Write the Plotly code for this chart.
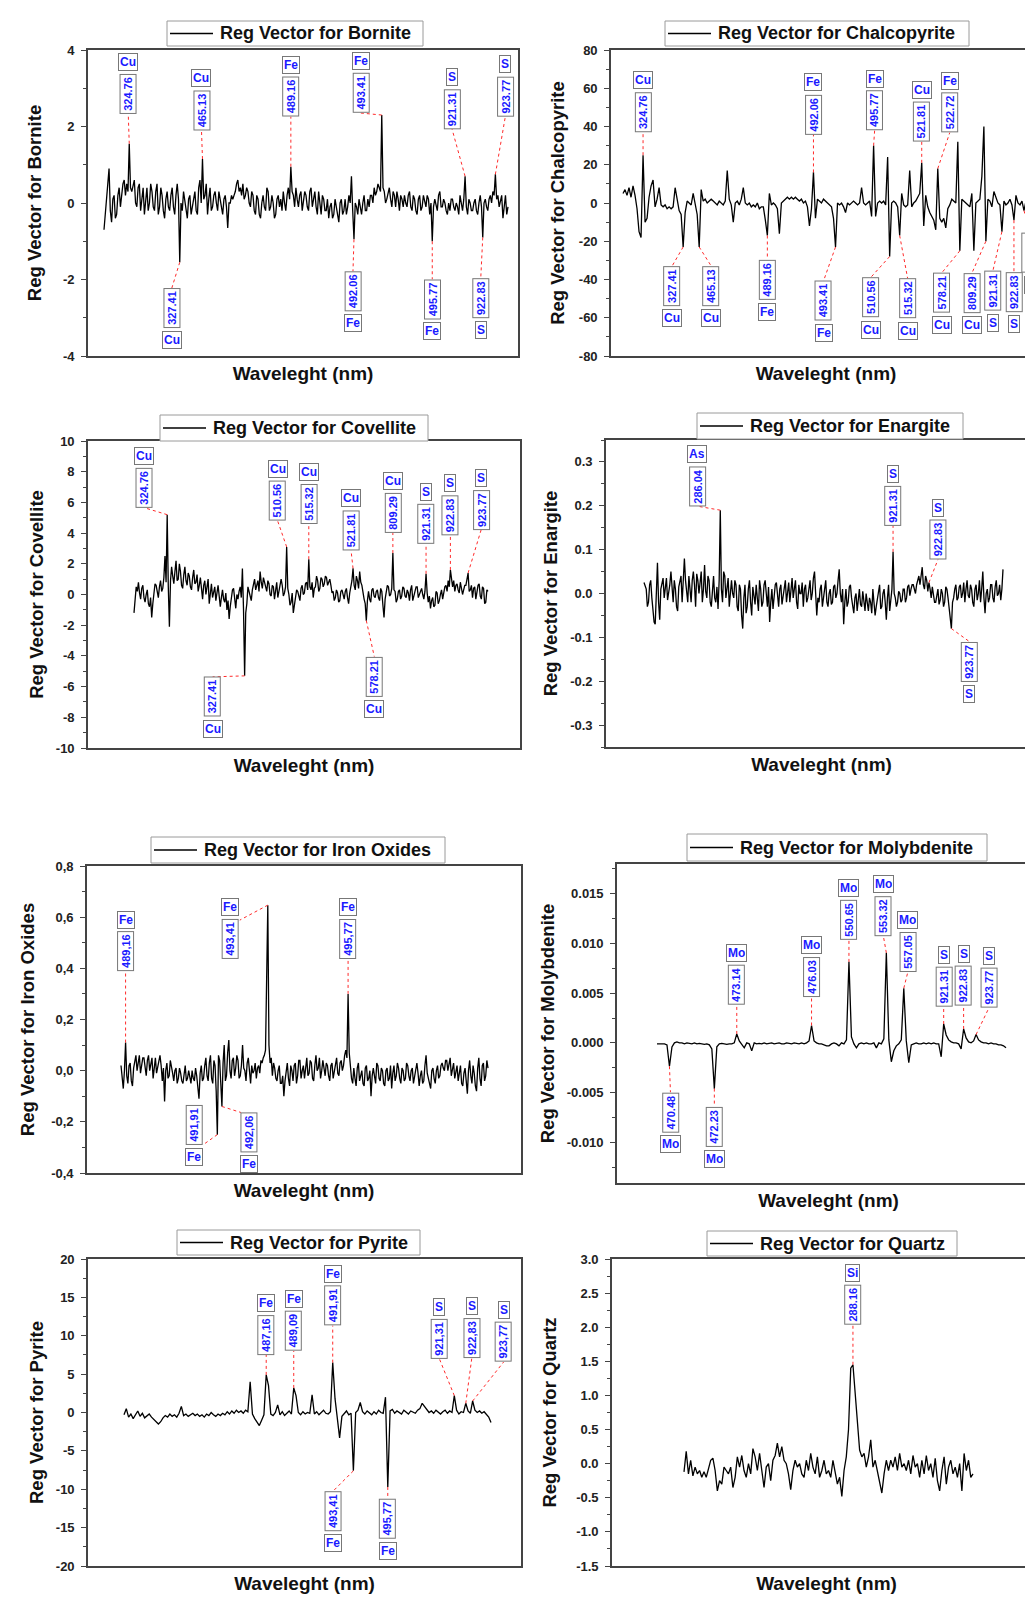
import plotly.graph_objects as go

FIG_W, FIG_H = 1033, 1597

# ---------------- data (regression vectors) ----------------
bornite = [
    -0.7, -0.3, 0.0, 0.4, 0.9, -0.2, -0.5, 0.1, 0.2, -0.4, -0.3, 0.2, 0.4, -0.1, 0.3, 0.5, 0.6, 0.2, 0.5, 0.3,
    1.55, 0.4, 0.3, 0.5, 0.6, 0.0, -0.1, 0.4, 0.5, -0.2, 0.2, 0.4, -0.3, 0.1, 0.4, -0.2, 0.0, 0.5, 0.3, -0.1,
    -0.2, 0.3, 0.5, -0.3, -0.1, 0.4, 0.2, -0.2, -0.4, 0.1, 0.3, -0.1, -0.2, 0.2, 0.4, -0.1, -0.3, 0.2, 0.5, 0.1,
    -1.55, 0.0, -0.2, 0.3, 0.1, -0.2, -0.4, 0.1, 0.2, -0.3, -0.1, 0.2, 0.3, -0.2, -0.3, 0.4, 0.6, 0.0, 1.15, 0.1,
    0.2, 0.5, -0.3, 0.1, 0.4, -0.2, -0.1, 0.2, 0.3, 0.0, -0.2, 0.3, 0.1, -0.2, -0.3, 0.1, 0.2, -0.1, -0.65, 0.0,
    0.0, 0.2, 0.1, 0.2, 0.3, 0.5, 0.6, 0.3, 0.4, 0.2, 0.5, 0.1, 0.2, 0.4, 0.3, 0.0, -0.1, 0.3, 0.2, -0.2,
    -0.3, 0.2, 0.1, -0.3, -0.4, 0.0, 0.2, -0.1, -0.2, 0.4, 0.3, -0.2, -0.1, 0.2, 0.0, -0.4, -0.3, 0.1, 0.2, -0.1,
    0.1, -0.2, 0.3, 0.0, -0.2, 0.2, 0.4, 0.1, 0.95, 0.3, 0.2, -0.1, 0.4, 0.1, -0.1, 0.2, 0.3, -0.2, 0.0, 0.3,
    0.2, -0.1, -0.2, 0.3, 0.4, -0.1, 0.1, 0.3, -0.1, -0.3, 0.3, 0.0, -0.3, 0.2, 0.1, -0.2, -0.2, 0.1, -0.4, -0.1,
    0.0, -0.4, -0.3, 0.1, -0.1, -0.4, -0.5, 0.0, 0.1, -0.3, -0.2, 0.1, -0.3, -0.1, 0.2, 0.0, 0.7, -0.2, -0.95, 0.0,
    -0.1, -0.3, 0.1, -0.1, -0.3, 0.0, 0.2, -0.2, -0.2, 0.1, -0.1, 0.2, 0.2, 0.0, 0.4, 0.2, 0.3, 0.5, 0.4, 0.3,
    2.3, 0.4, 0.3, 0.0, 0.1, 0.3, 0.4, 0.1, -0.1, 0.3, 0.2, -0.1, 0.3, 0.1, -0.2, 0.2, 0.1, -0.1, 0.2, 0.0,
    -0.1, 0.2, 0.3, -0.1, -0.2, 0.2, 0.1, -0.2, -0.3, 0.1, 0.2, -0.2, -0.1, 0.2, 0.0, -0.1, 0.2, 0.1, -0.3, 0.0,
    -1.0, -0.1, 0.1, -0.1, -0.2, 0.2, 0.3, -0.1, -0.1, 0.1, 0.0, -0.2, -0.3, 0.0, -0.2, 0.1, 0.1, -0.1, -0.2, 0.0,
    -0.1, -0.3, 0.2, 0.0, -0.2, 0.1, 0.7, -0.1, -0.3, 0.1, 0.0, -0.2, -0.2, 0.0, 0.1, -0.2, -0.3, 0.0, 0.2, -0.1,
    -0.9, 0.0, 0.1, -0.1, -0.2, 0.1, 0.2, 0.0, 0.3, 0.2, 0.75, 0.1, 0.2, -0.1, 0.1, 0.2, -0.4, 0.0, 0.2, -0.3, -0.1,
]
chalcopyrite = [
    5, 7, 4, 8, 3, 9, 4, -3, -15, -18,
    25, -10, -8, 3, 9, 12, -2, 2, 8, -1,
    -2, -1, -3, -2, -3, -2, 8, 1, -4, -6,
    -23, -5, 1, 0, -1, 5, -1, -6, -23, 7,
    1, 2, 0, 1, 2, 1, 0, -1, 1, 0,
    -1, 1, 17, 2, -1, -10, 0, 1, -1, 2,
    8, 0, -1, 0, -2, -1, -2, 0, -3, -2,
    -2, -9, -17, 5, -1, 0, -1, -3, -16, 0,
    1, 2, 3, 2, 3, 2, 3, 2, 1, 2,
    0, 1, -2, -12, -3, 16, -8, 2, 1, 0,
    2, 1, 0, -1, -2, -8, -23, 0, -1, 0,
    -2, -5, 0, -1, 0, 1, 0, -1, 0, 8,
    0, -1, 0, 1, -7, 30, -7, 0, 1, 0,
    1, -1, 24, -28, 0, 1, 0, -2, -17, 5,
    -1, -2, -1, 17, -2, 0, 1, 3, 5, 21,
    -12, 4, -2, -5, -7, -9, -14, 18, -8, -10,
    -8, -13, -3, -1, 2, 1, 0, 32, -25, 2,
    1, 0, -1, -2, 5, -25, 0, 1, 2, 14,
    40, -20, 2, 1, -2, 6, 3, 0, -1, -15,
    1, -1, 0, 2, -1, -9, 4, 0, -1, 1,
    -4, 1, 0, 1, 1, 1,
]
covellite = [
    -1.2, -0.4, 0.5, 0.2, 0.8, 0.1, -0.3, 0.4, 0.6, -0.2, -0.5, 0.0, 0.3, -0.6, -0.8, -0.2, -1.5, -0.6, 0.2, 0.7,
    0.6, 0.1, -0.2, 0.5, 0.9, 0.2, 0.4, 1.1, 2.5, 0.8, 5.2, 0.5, -2.1, 0.9, 1.8, 1.2, 0.7, 1.5, 2.2, 0.9,
    1.0, 2.0, 1.5, 0.6, 0.4, 1.3, 1.8, 0.9, 0.6, 1.4, 1.2, 0.5, 0.3, 1.1, 1.6, 0.7, 0.8, 1.3, 0.2, 0.6,
    1.1, 0.4, -0.3, 0.6, 0.9, 0.0, 0.5, 1.0, -0.6, 0.2, 0.7, -0.2, 0.1, 0.5, -0.4, 0.3, 0.6, -0.1, -0.8, -0.2,
    0.3, -0.3, -0.5, 0.1, -1.0, -0.4, -1.6, -0.8, -0.2, 0.3, 0.4, -0.5, -0.9, 0.0, -0.3, 0.2, 0.5, -0.2, 1.7, -1.0,
    -5.3, -1.2, -0.6, 0.5, 0.2, -0.2, -0.4, 0.3, 0.6, 1.0, 0.3, 0.7, 0.9, 0.2, 1.5, 0.8, 0.4, 1.1, 0.8, 0.3,
    0.2, 0.9, 0.7, 0.0, -0.1, 0.6, 0.5, -0.3, 0.3, 0.8, -0.2, 0.2, 0.4, 1.0, 0.6, -0.1, 0.1, 0.5, 3.1, 0.4,
    0.0, -0.7, -0.5, 0.1, -1.2, -0.6, -0.3, 0.3, 0.2, -0.2, -0.4, 0.4, 0.6, 0.0, 0.1, 0.7, 0.8, 0.3, 2.3, 0.5,
    0.3, 0.8, -0.2, 0.4, 0.5, 1.2, 0.9, 0.2, 0.4, 1.1, 1.0, 0.5, 0.7, 1.2, 1.1, 0.6, 0.8, 1.0, 0.6, 0.1,
    0.2, -0.4, -0.2, 0.3, 0.1, -0.5, -0.4, 0.2, 0.3, -0.1, -0.3, 0.2, 0.4, -0.2, -0.6, 0.1, 0.5, 0.9, 1.7, 0.6,
    0.3, 1.2, 0.9, 0.4, 1.5, 0.8, 0.6, 0.0, -0.3, -0.6, -1.7, -0.4, 0.2, -0.3, -0.5, 0.3, 0.4, -0.1, -0.2, 0.2,
    0.3, -0.2, -0.4, 0.4, 0.2, -0.7, -1.5, -0.3, 0.1, 0.6, 0.5, -0.1, 0.0, 0.4, 2.7, 0.3, 0.2, -0.5, -0.3, 0.2,
    0.3, -0.3, -0.1, 0.5, 0.4, -0.1, -0.2, 0.3, 0.1, -0.4, 0.3, 0.6, -0.4, 0.0, 0.2, 0.5, 0.5, -0.2, 0.0, 0.3,
    0.4, 0.0, -0.3, 0.2, 1.35, 0.1, -0.5, -0.1, -0.9, -0.4, -0.2, -0.8, -0.7, 0.2, 0.1, -0.6, -0.4, 0.0, 0.3, -0.3,
    0.2, 0.5, 0.6, 0.2, 0.9, 0.5, 1.6, 0.8, 0.5, 0.9, 0.2, 0.6, 0.7, 0.3, 0.1, 0.8, 0.5, 0.0, 0.3, 0.6,
    0.6, 0.9, 1.4, 0.2, 0.3, 0.6, -0.2, 0.4, 0.5, -0.3, 0.1, 0.6, 0.7, -0.1, -0.3, 0.5, 0.4, -0.6, -0.5, 0.3, 0.2,
]
enargite = [
    0.025, 0.015, 0.01, -0.03, -0.02, 0.02, 0.03, -0.01, -0.04, -0.065, -0.07, 0.0, 0.07, -0.02, -0.06, 0.01, 0.02, 0.035, -0.01, 0.02,
    0.035, -0.015, 0.0, 0.02, 0.05, 0.01, -0.02, 0.03, 0.01, -0.03, -0.04, 0.015, 0.03, 0.04, -0.02, 0.02, 0.08, 0.03, 0.01, -0.02,
    0.04, 0.01, -0.02, 0.03, 0.05, 0.02, -0.03, 0.045, 0.03, 0.0, 0.02, 0.05, -0.02, 0.01, 0.065, 0.005, -0.01, 0.04, 0.03, -0.02,
    -0.03, 0.02, 0.04, -0.01, -0.02, 0.015, -0.035, 0.03, 0.19, 0.01, -0.02, 0.05, 0.04, -0.01, 0.01, 0.035, -0.03, -0.005, 0.03, 0.0,
    -0.01, 0.03, 0.02, -0.03, -0.04, 0.02, 0.01, -0.05, -0.08, -0.01, 0.02, -0.045, -0.03, 0.01, 0.03, -0.02, -0.05, 0.015, 0.0, -0.025,
    0.02, -0.01, -0.04, 0.03, 0.01, -0.03, -0.02, 0.02, 0.03, 0.0, -0.03, 0.015, -0.065, -0.02, 0.01, -0.035, -0.01, 0.02, 0.025, -0.015,
    -0.03, 0.01, 0.02, -0.025, -0.01, 0.015, 0.03, -0.02, 0.0, 0.025, -0.02, 0.01, 0.035, -0.01, 0.01, 0.03, -0.02, -0.035, 0.02, 0.0,
    0.0, 0.025, -0.03, 0.01, 0.02, -0.02, -0.01, 0.02, 0.03, -0.015, 0.0, 0.035, 0.05, 0.0, -0.05, -0.01, -0.02, 0.01, 0.02, -0.03,
    -0.01, 0.02, 0.03, -0.02, -0.03, 0.0, 0.01, -0.025, -0.02, 0.015, 0.02, -0.01, 0.0, 0.03, 0.055, 0.0, -0.02, 0.01, -0.07, -0.02,
    0.01, -0.03, -0.02, 0.015, 0.02, -0.01, -0.03, -0.045, -0.01, 0.0, -0.04, -0.02, 0.01, -0.025, -0.03, 0.005, -0.02, -0.04, 0.0, -0.015,
    -0.04, -0.01, -0.02, -0.045, 0.01, -0.02, -0.05, -0.03, -0.01, 0.01, 0.02, -0.035, -0.03, 0.0, 0.01, -0.02, -0.06, -0.01, 0.02, -0.04,
    -0.02, 0.01, 0.095, 0.0, -0.01, -0.03, -0.02, 0.005, 0.0, -0.02, -0.015, 0.01, 0.01, -0.02, -0.01, 0.015, 0.02, -0.005, 0.01, 0.02,
    0.02, 0.01, 0.0, 0.02, 0.03, 0.04, 0.02, 0.035, 0.06, 0.02, 0.01, 0.04, 0.03, 0.005, 0.025, 0.01, -0.01, 0.015, 0.0, -0.02,
    -0.02, 0.0, 0.01, -0.025, -0.015, 0.01, 0.0, -0.03, -0.02, 0.015, 0.01, -0.01, -0.03, -0.05, -0.08, -0.02, -0.01, 0.01, 0.02, -0.015,
    -0.01, 0.015, 0.02, -0.01, 0.0, 0.025, -0.02, 0.01, 0.03, -0.005, -0.01, 0.02, 0.01, -0.02, -0.03, 0.01, 0.02, -0.015, 0.0, 0.03,
    -0.02, 0.01, 0.05, -0.01, -0.045, 0.0, 0.01, -0.02, -0.01, 0.02, 0.02, -0.01, -0.02, 0.015, 0.03, -0.005, 0.0, 0.02, -0.015, 0.01, 0.055,
]
iron_oxides = [
    0.02, -0.03, -0.07, 0.0, 0.11, -0.02, -0.05, 0.02, 0.03, -0.04, -0.06, 0.01, 0.04, 0.06, 0.0, 0.03, 0.06, -0.01, 0.02, 0.05,
    0.05, 0.02, -0.02, 0.04, 0.06, 0.0, 0.03, 0.05, -0.03, 0.02, 0.05, -0.01, 0.01, 0.04, 0.06, 0.02, -0.04, 0.01, -0.12, 0.0,
    0.03, -0.03, -0.02, 0.04, 0.02, -0.01, -0.04, 0.0, 0.01, -0.05, -0.03, 0.01, -0.01, -0.04, -0.05, -0.02, 0.02, -0.04, -0.03, 0.0,
    -0.02, -0.05, 0.0, -0.03, -0.04, 0.01, -0.02, -0.06, -0.11, -0.01, 0.02, -0.04, -0.03, 0.02, 0.05, -0.02, -0.04, 0.03, 0.06, -0.03,
    -0.05, 0.04, 0.02, -0.08, -0.25, 0.06, 0.04, -0.05, -0.14, 0.03, 0.1, -0.04, -0.02, 0.07, 0.12, 0.0, -0.03, 0.04, 0.05, -0.02,
    0.01, 0.06, 0.04, -0.03, -0.02, 0.02, 0.1, 0.01, 0.0, -0.04, 0.03, 0.05, -0.02, -0.05, 0.02, -0.01, 0.0, 0.03, -0.03, 0.01,
    0.02, -0.01, 0.04, 0.03, 0.05, 0.06, 0.08, 0.3, 0.647, 0.1, 0.03, 0.05, -0.02, 0.03, 0.01, -0.03, -0.04, 0.0, 0.02, -0.05,
    -0.05, -0.02, -0.1, -0.04, 0.0, 0.03, -0.03, -0.06, 0.02, 0.0, -0.04, 0.02, 0.03, -0.05, -0.02, 0.04, 0.04, -0.03, 0.0, 0.02,
    -0.03, 0.01, 0.05, -0.02, -0.01, 0.04, 0.03, -0.03, -0.04, 0.02, 0.06, 0.0, 0.01, 0.05, -0.03, 0.0, 0.04, 0.01, -0.02, 0.03,
    0.02, -0.02, -0.04, 0.02, 0.03, -0.03, 0.0, 0.04, 0.05, -0.01, -0.02, 0.03, 0.04, 0.0, 0.02, 0.06, 0.08, 0.05, 0.3, 0.07,
    0.0, -0.03, -0.05, 0.01, -0.03, -0.06, 0.01, 0.03, -0.04, -0.01, 0.0, -0.05, -0.06, 0.01, 0.02, -0.04, -0.03, 0.0, -0.1, -0.02,
    0.01, -0.02, -0.05, 0.03, 0.02, -0.03, -0.04, 0.01, 0.0, -0.05, -0.06, 0.0, 0.01, -0.04, -0.03, 0.02, -0.07, -0.01, 0.02, -0.04,
    -0.02, 0.03, 0.01, -0.03, -0.05, 0.01, 0.0, -0.04, -0.03, 0.03, 0.02, -0.02, -0.04, 0.0, 0.01, -0.05, -0.02, 0.02, 0.03, -0.01,
    -0.06, -0.02, 0.0, -0.05, -0.04, 0.02, 0.06, -0.01, -0.03, -0.05, -0.07, 0.0, 0.01, -0.03, -0.05, 0.0, 0.02, -0.03, -0.02, 0.02,
    0.03, 0.01, 0.0, 0.04, 0.04, 0.0, 0.02, 0.05, -0.02, 0.01, 0.03, -0.03, 0.0, 0.02, -0.04, -0.01, 0.02, -0.05, -0.06, -0.01,
    0.01, -0.04, -0.09, 0.0, 0.04, -0.02, -0.05, 0.02, -0.01, -0.06, -0.08, 0.01, 0.05, -0.03, -0.06, 0.02, 0.03, -0.04, -0.02, 0.04, 0.01,
]
molybdenite = [
    -0.0001, -0.0001, -0.00005, -0.0001, -0.0002, -0.00235, -0.0004, 0.0, 0.0001, 0.0,
    0.0, -0.0001, 0.0, -0.00005, -0.0001, 0.0, -0.0001, -0.00005, -0.0001, -0.00015,
    -0.0001, -0.0002, -0.0006, -0.0046, -0.0004, -0.0001, -0.00005, -0.0001, -0.00015, -0.0001,
    -0.0001, 0.0, 0.0009, 0.0002, -0.0001, -0.0005, 0.0, -0.0001, -0.0008, 0.0,
    -0.0001, -0.00005, -0.0001, 0.0, -0.0001, -0.00005, 0.0, -0.0001, -0.00005, 0.0,
    -0.0001, -0.0001, 0.0, -0.00005, -0.0001, 0.0, -0.00005, -0.0001, 0.0, -0.0001,
    0.0, 0.0002, 0.00175, 0.0002, 0.0, -0.0001, -0.0001, -0.0002, -0.0003, -0.0003,
    -0.0001, 0.0, -0.0001, -0.0003, 0.0, -0.0001, 0.0003, 0.00815, 0.0006, -0.0001,
    -0.0005, -0.0001, 0.0, -0.0001, 0.0, -0.0001, -0.0001, 0.0, -0.0005, 0.0,
    -0.0001, 0.0004, 0.00906, 0.0003, -0.0019, -0.0008, -0.0003, -0.0001, 0.0003, 0.0055,
    0.0002, -0.002, -0.0002, -0.0001, 0.0, -0.0001, -0.0001, 0.0, -0.0001, 0.0,
    -0.0001, 0.0, -0.0001, -0.0001, -0.0014, 0.0019, 0.0008, 0.0003, 0.0001, 0.0,
    0.0, -0.0001, -0.0006, 0.0014, 0.0005, 0.0001, 0.0, 0.0002, 0.00084, 0.0003,
    0.0001, 0.0, 0.0, -0.0001, 0.0, -0.0001, -0.0001, -0.0002, -0.0002, -0.0003, -0.0005,
]
pyrite = [
    -0.3, 0.5, -0.6, -0.2, -0.8, -0.3, 0.2, -0.5, -0.1, -0.7,
    -0.4, -0.2, -0.6, -0.9, -1.3, -1.5, -1.2, -0.7, -0.4, -0.6,
    -0.2, -0.5, -0.3, -0.6, -0.1, 0.8, -0.4, -0.2, -0.5, -0.3,
    -0.1, -0.4, -0.2, -0.5, -0.3, -0.6, -0.2, -0.4, 0.0, -0.3,
    -0.5, -0.2, -0.4, -0.1, -0.3, 0.1, -0.2, 0.2, -0.1, 0.3,
    0.0, 0.2, -0.1, 0.3, 0.1, 4.0, -0.2, -0.8, -1.3, -1.7,
    -1.0, -0.3, 4.9, 3.5, -0.2, -0.4, 0.0, 1.0, -0.3, 0.1,
    -0.4, -0.1, 0.2, -0.2, 3.2, 2.2, 0.0, -0.3, 0.1, -0.2,
    0.0, -0.1, 2.3, -0.2, 0.1, -0.3, 0.0, 0.3, -0.1, -0.2,
    0.1, 6.5, 1.8, -0.4, -3.3, -0.5, -0.2, 0.2, -0.3, -0.1,
    -7.6, 0.0, 0.3, 1.3, 0.1, -0.2, 0.2, 0.0, -0.3, 0.1,
    -0.2, 0.3, 0.0, -0.1, 2.0, -9.7, 0.2, 0.4, -0.1, 0.2,
    0.0, -0.2, 0.3, 0.1, -0.2, 0.2, 0.0, -0.1, 0.3, 0.5,
    1.2, 0.8, 0.4, 0.0, 0.2, -0.1, 0.3, 0.0, -0.2, 0.1,
    0.3, -0.1, 0.2, 0.0, 2.2, 0.3, -0.2, 0.1, 0.0, 1.2,
    0.2, -0.1, 1.5, 0.3, 0.0, 0.2, -0.1, 0.1, -0.2, -0.6, -1.3,
]
quartz = [
    -0.12, 0.18, -0.15, 0.05, -0.18, -0.05, -0.15, -0.1, -0.2, -0.12,
    -0.2, -0.05, 0.05, 0.08, -0.1, -0.4, -0.25, -0.3, -0.05, -0.1,
    -0.15, -0.05, -0.35, -0.2, 0.1, -0.05, 0.12, -0.1, -0.2, 0.0,
    -0.15, 0.22, 0.1, -0.1, 0.15, -0.1, -0.35, -0.05, 0.0, -0.25,
    0.05, 0.12, 0.3, 0.1, 0.25, 0.05, 0.0, -0.15, -0.38, -0.1,
    0.05, -0.05, 0.0, -0.15, -0.2, 0.05, -0.1, 0.15, -0.05, -0.15,
    0.1, -0.2, -0.1, 0.05, -0.15, -0.1, -0.2, 0.05, -0.1, -0.3,
    -0.2, -0.48, -0.1, 0.1, 0.5, 1.4, 1.45, 1.0, 0.7, 0.2,
    0.1, 0.15, -0.05, 0.1, 0.35, -0.05, 0.05, -0.1, -0.25, -0.43,
    -0.15, 0.05, -0.1, 0.05, -0.05, 0.1, -0.1, 0.15, -0.05, 0.0,
    -0.1, 0.05, -0.15, 0.12, -0.05, 0.0, -0.2, 0.05, -0.15, 0.12,
    -0.1, 0.0, -0.2, 0.08, -0.25, -0.4, -0.1, 0.1, -0.3, -0.05,
    0.05, -0.15, -0.05, -0.2, 0.0, -0.4, 0.15, -0.1, 0.05, -0.2, -0.15,
]

# peak labels: (index of the peak in the series, wavelength, element)
bornite_peaks = [(20, "324.76", "Cu"), (60, "327.41", "Cu"), (78, "465.13", "Cu"),
                 (148, "489.16", "Fe"), (198, "492.06", "Fe"), (220, "493.41", "Fe"),
                 (260, "495.77", "Fe"), (286, "921.31", "S"), (300, "922.83", "S"),
                 (310, "923.77", "S")]
chalcopyrite_peaks = [(10, "324.76", "Cu"), (30, "327.41", "Cu"), (38, "465.13", "Cu"),
                      (72, "489.16", "Fe"), (95, "492.06", "Fe"), (106, "493.41", "Fe"),
                      (125, "495.77", "Fe"), (133, "510.56", "Cu"), (138, "515.32", "Cu"),
                      (149, "521.81", "Cu"), (157, "522.72", "Fe"), (168, "578.21", "Cu"),
                      (181, "809.29", "Cu"), (189, "921.31", "S"), (195, "922.83", "S"),
                      (200, "923.77", "S")]
covellite_peaks = [(30, "324.76", "Cu"), (100, "327.41", "Cu"), (138, "510.56", "Cu"),
                   (158, "515.32", "Cu"), (198, "521.81", "Cu"), (210, "578.21", "Cu"),
                   (234, "809.29", "Cu"), (264, "921.31", "S"), (286, "922.83", "S"),
                   (302, "923.77", "S")]
enargite_peaks = [(68, "286.04", "As"), (222, "921.31", "S"), (254, "922.83", "S"),
                  (274, "923.77", "S")]
iron_oxides_peaks = [(4, "489,16", "Fe"), (84, "491,91", "Fe"), (88, "492,06", "Fe"),
                     (128, "493,41", "Fe"), (198, "495,77", "Fe")]
molybdenite_peaks = [(5, "470.48", "Mo"), (23, "472.23", "Mo"), (32, "473.14", "Mo"),
                     (62, "476.03", "Mo"), (77, "550.65", "Mo"), (92, "553.32", "Mo"),
                     (99, "557.05", "Mo"), (115, "921.31", "S"), (123, "922.83", "S"),
                     (128, "923.77", "S")]
pyrite_peaks = [(62, "487,16", "Fe"), (74, "489,09", "Fe"), (91, "491,91", "Fe"),
                (100, "493,41", "Fe"), (115, "495,77", "Fe"), (144, "921,31", "S"),
                (149, "922,83", "S"), (152, "923,77", "S")]
quartz_peaks = [(76, "288.16", "Si")]

# y tick values of each panel
bornite_ticks = [-4, -2, 0, 2, 4]
chalcopyrite_ticks = [-80, -60, -40, -20, 0, 20, 40, 60, 80]
covellite_ticks = [-10, -8, -6, -4, -2, 0, 2, 4, 6, 8, 10]
enargite_ticks = [-0.3, -0.2, -0.1, 0.0, 0.1, 0.2, 0.3]
iron_oxides_ticks = [-0.4, -0.2, 0.0, 0.2, 0.4, 0.6, 0.8]
molybdenite_ticks = [-0.010, -0.005, 0.0, 0.005, 0.010, 0.015]
pyrite_ticks = [-20, -15, -10, -5, 0, 5, 10, 15, 20]
quartz_ticks = [-1.5, -1.0, -0.5, 0.0, 0.5, 1.0, 1.5, 2.0, 2.5, 3.0]

# ---------------- layout of label boxes (side, dx px, dy px [, leader dx, dy]) ----------------
bornite_boxes = [("u", -1, 30), ("d", -8, -26), ("u", -1, 29), ("u", 0, 50), ("d", -1, -32),
                 ("u", -21, 2), ("d", 0, -38), ("u", -13, 47), ("d", -2, -41), ("u", 10, 58)]
chalcopyrite_boxes = [("u", 0, 23), ("d", -11, -19), ("d", 12, -19), ("d", 0, -24), ("u", 0, 38),
                      ("d", -12, -34), ("u", 1, 15), ("d", -19, -21), ("d", 8, -43), ("u", 0, 21),
                      ("u", 12, 36), ("d", -18, -22), ("d", -14, -32), ("d", -9, -39),
                      ("d", 0, -52), ("d", 6, -22)]
covellite_boxes = [("u", -23, 7), ("d", -32, -1), ("u", -9, 26), ("u", 0, 35), ("u", -2, 18),
                   ("d", 8, -36), ("u", 0, 20), ("u", 0, 30), ("u", 0, 35), ("u", 13, 43)]
enargite_boxes = [("u", -23, 4), ("u", 0, 26), ("u", 9, 23), ("d", 18, -13)]
iron_oxides_boxes = [("u", 0, 71), ("d", -23, 30, -14, -10), ("d", 27, -6, 19, -6),
                     ("u", -38, -54, -28, -15), ("u", 0, 35)]
molybdenite_boxes = [("d", 1, -26), ("d", 0, -18), ("u", 0, 29), ("u", 0, 28), ("u", 0, 22),
                     ("u", -3, 17), ("u", 4, 16), ("u", 0, 17), ("u", 0, 23), ("u", 13, 27)]
pyrite_boxes = [("u", 0, 20), ("u", 0, 37), ("u", 0, 37), ("d", -20, -20), ("d", 0, -12),
                ("u", -15, 37), ("u", 6, 45), ("u", 31, 39)]
quartz_boxes = [("u", 0, 40)]

# panel geometry in pixels: frame (L, R, T, B), data span (a, b), legend box (x0, x1, y0, y1)
panels = [
    dict(name="Bornite", y=bornite, peaks=bornite_peaks, boxes=bornite_boxes,
         ticks=bornite_ticks, nd=0, comma=False, yr=[-4, 4], minor=1,
         L=80, R=510, T=42, B=348, a=96, b=500, mirror=True, standoff=17,
         leg=(159, 415, 13, 38)),
    dict(name="Chalcopyrite", y=chalcopyrite, peaks=chalcopyrite_peaks, boxes=chalcopyrite_boxes,
         ticks=chalcopyrite_ticks, nd=0, comma=False, yr=[-80, 80], minor=10,
         L=603, R=1033, T=42, B=348, a=615, b=1026, mirror=False, standoff=9,
         leg=(657, 961, 13, 38)),
    dict(name="Covellite", y=covellite, peaks=covellite_peaks, boxes=covellite_boxes,
         ticks=covellite_ticks, nd=0, comma=False, yr=[-10, 10], minor=1,
         L=80, R=512, T=433, B=740, a=126, b=480, mirror=True, standoff=7,
         leg=(152, 420, 407, 433)),
    dict(name="Enargite", y=enargite, peaks=enargite_peaks, boxes=enargite_boxes,
         ticks=enargite_ticks, nd=1, comma=False, yr=[-0.35, 0.35], minor=0.05,
         L=598, R=1029, T=432, B=739, a=636, b=995, mirror=True, standoff=8,
         leg=(689, 955, 405, 431)),
    dict(name="Iron Oxides", y=iron_oxides, peaks=iron_oxides_peaks, boxes=iron_oxides_boxes,
         ticks=iron_oxides_ticks, nd=1, comma=True, yr=[-0.4, 0.8], minor=0.1,
         L=79, R=513, T=858, B=1165, a=113, b=480, mirror=True, standoff=12,
         leg=(143, 437, 829, 855)),
    dict(name="Molybdenite", y=molybdenite, peaks=molybdenite_peaks, boxes=molybdenite_boxes,
         ticks=molybdenite_ticks, nd=3, comma=False, yr=[-0.0141, 0.018], minor=0.0025,
         L=609, R=1032, T=856, B=1175, a=649, b=998, mirror=True, standoff=7,
         leg=(679, 979, 826, 853)),
    dict(name="Pyrite", y=pyrite, peaks=pyrite_peaks, boxes=pyrite_boxes,
         ticks=pyrite_ticks, nd=0, comma=False, yr=[-20, 20], minor=2.5,
         L=80, R=513, T=1251, B=1558, a=116, b=483, mirror=True, standoff=7,
         leg=(169, 412, 1222, 1247)),
    dict(name="Quartz", y=quartz, peaks=quartz_peaks, boxes=quartz_boxes,
         ticks=quartz_ticks, nd=1, comma=False, yr=[-1.5, 3.0], minor=0.25,
         L=604, R=1033, T=1251, B=1558, a=676, b=965, mirror=False, standoff=15,
         leg=(699, 949, 1223, 1248)),
]

FONT = "Liberation Sans, Arial, sans-serif"
AXIS_COLOR = "#444444"
LABEL_BLUE = "#1a1aff"
LEADER_RED = "#ff2a2a"
NUM_LEN = 36           # length of the rotated wavelength box text area
NUM_BOX = NUM_LEN + 4  # outer length incl. padding and border
GAP = 3


def tick_text(v, nd, comma):
    s = f"{v:.{nd}f}"
    if s.startswith("-") and float(s) == 0:
        s = s[1:]
    return s.replace(".", ",") if comma else s


def px_x(v):
    return v / FIG_W


def px_y(v):
    return 1 - v / FIG_H


fig = go.Figure()
layout = dict(width=FIG_W, height=FIG_H,
              margin=dict(l=0, r=0, t=0, b=0, autoexpand=False),
              paper_bgcolor="white", plot_bgcolor="white", showlegend=False,
              font=dict(family=FONT, color="#111"))

for k, p in enumerate(panels, start=1):
    sfx = "" if k == 1 else str(k)
    xa, ya = "x" + sfx, "y" + sfx
    n = len(p["y"])
    s = (n - 1) / (p["b"] - p["a"])
    xr = [-(p["a"] - p["L"]) * s, (n - 1) + (p["R"] - p["b"]) * s]

    fig.add_trace(go.Scatter(
        x=list(range(n)), y=p["y"], mode="lines", name="Reg Vector for " + p["name"],
        line=dict(color="black", width=1.3), xaxis=xa, yaxis=ya, hoverinfo="skip"))

    layout["xaxis" + sfx] = dict(
        domain=[px_x(p["L"]), min(1.0, px_x(p["R"]))], range=xr, anchor=ya,
        showticklabels=False, ticks="", showgrid=False, zeroline=False,
        showline=True, mirror=True, linecolor=AXIS_COLOR, linewidth=1.6,
        automargin=False,
        title=dict(text="Waveleght (nm)", standoff=10,
                   font=dict(family=FONT, size=19, weight="bold", color="#111")))
    layout["yaxis" + sfx] = dict(
        domain=[px_y(p["B"]), px_y(p["T"])], range=p["yr"], anchor=xa,
        tickmode="array", tickvals=p["ticks"],
        ticktext=[tick_text(v, p["nd"], p["comma"]) for v in p["ticks"]],
        ticks="outside", ticklen=5, tickwidth=1.4, tickcolor=AXIS_COLOR,
        ticklabelstandoff=4,
        minor=dict(tickmode="linear", tick0=0, dtick=p["minor"], ticks="outside",
                   ticklen=3, tickwidth=1.2, tickcolor=AXIS_COLOR),
        tickfont=dict(family=FONT, size=13, weight="bold", color="#222"),
        showgrid=False, zeroline=False, showline=True, mirror=p["mirror"],
        linecolor=AXIS_COLOR, linewidth=1.6, automargin=False,
        title=dict(text="Reg Vector for " + p["name"], standoff=p["standoff"],
                   font=dict(family=FONT, size=18.5, weight="bold", color="#111")))

    # legend-style box: frame, sample line and series name
    lx0, lx1, ly0, ly1 = p["leg"]
    ymid = (ly0 + ly1) / 2
    fig.add_shape(type="rect", xref="paper", yref="paper",
                  x0=px_x(lx0), x1=px_x(lx1), y0=px_y(ly1), y1=px_y(ly0),
                  line=dict(color="#9a9a9a", width=1), fillcolor="white", layer="above")
    fig.add_shape(type="line", xref="paper", yref="paper",
                  x0=px_x(lx0 + 3), x1=px_x(lx0 + 46), y0=px_y(ymid), y1=px_y(ymid),
                  line=dict(color="black", width=1.4), layer="above")
    fig.add_annotation(xref="paper", yref="paper", x=px_x(lx0 + 51), y=px_y(ymid),
                       xanchor="left", yanchor="middle", showarrow=False,
                       text="Reg Vector for " + p["name"],
                       font=dict(family=FONT, size=18, weight="bold", color="#111"))

    for (i, num, el), box in zip(p["peaks"], p["boxes"]):
        side, dx, dy = box[:3]
        lx, ly = (box[3], box[4]) if len(box) == 5 else (dx, dy)
        yv = p["y"][i]
        fig.add_shape(type="line", xref=xa, yref=ya, xsizemode="pixel", ysizemode="pixel",
                      xanchor=i, yanchor=yv, x0=0, y0=0, x1=lx, y1=ly,
                      line=dict(color=LEADER_RED, width=1, dash="dot"))
        anchor = "bottom" if side == "u" else "top"
        fig.add_annotation(xref=xa, yref=ya, x=i, y=yv, xshift=dx, yshift=dy,
                           xanchor="center", yanchor=anchor, text=num, textangle=-90,
                           showarrow=False, width=NUM_LEN, height=13, borderpad=1,
                           borderwidth=1, bordercolor="#777777", bgcolor="white",
                           font=dict(family=FONT, size=11, weight="bold", color=LABEL_BLUE))
        ey = dy + NUM_BOX + GAP if side == "u" else dy - NUM_BOX - GAP
        fig.add_annotation(xref=xa, yref=ya, x=i, y=yv, xshift=dx, yshift=ey,
                           xanchor="center", yanchor=anchor, text=el, showarrow=False,
                           height=14, borderpad=1, borderwidth=1, bordercolor="#777777",
                           bgcolor="white",
                           font=dict(family=FONT, size=12, weight="bold", color=LABEL_BLUE))

fig.update_layout(**layout)
fig.write_html("out.html")
